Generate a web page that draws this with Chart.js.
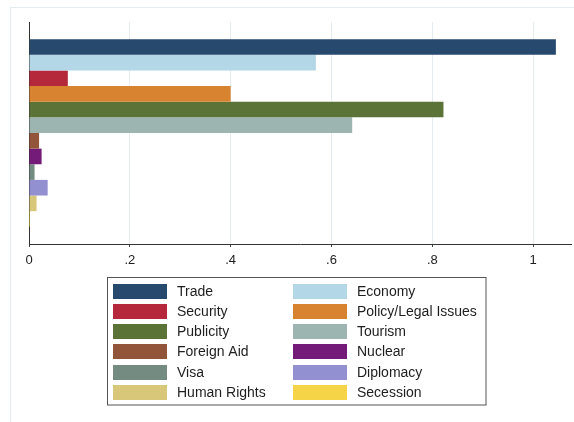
<!DOCTYPE html>
<html>
<head>
<meta charset="utf-8">
<script src="https://cdn.jsdelivr.net/npm/chart.js@4/dist/chart.umd.min.js"></script>
<style>
    html, body { margin: 0; padding: 0; background: #fff; }
    canvas { display: block; }
</style>
</head>
<body>
<canvas id="topicChart" width="574" height="422"></canvas>
<script>
'use strict';

// Temas y su peso medio (una barra por tema, de arriba a abajo)
const categories = [
    'Trade', 'Economy', 'Security', 'Policy/Legal Issues',
    'Publicity', 'Tourism', 'Foreign Aid', 'Nuclear',
    'Visa', 'Diplomacy', 'Human Rights', 'Secession'
];
const shares = [1.045, 0.569, 0.077, 0.400, 0.822, 0.641, 0.020, 0.025, 0.011, 0.037, 0.015, 0.002];
const barColors = [
    '#26496d', '#b4d7e7', '#b5273b', '#d8832f',
    '#5b7337', '#9cb5b0', '#93553a', '#741a78',
    '#738b80', '#9390d2', '#d8c679', '#f5d547'
];
const tickValues = [0, 0.2, 0.4, 0.6, 0.8, 1];

const FONT = "'Liberation Sans', Arial, Helvetica, sans-serif";

// Marco exterior + leyenda en dos columnas con recuadro
const boxLegend = {
    id: 'boxLegend',
    afterDraw(chart) {
        const ctx = chart.ctx;
        ctx.save();

        ctx.strokeStyle = '#e3ebee';
        ctx.lineWidth = 1;
        ctx.strokeRect(10.5, 7.5, 700, 600);

        const box = { x: 107.5, y: 277.5, w: 378.5, h: 127.5 };
        ctx.strokeStyle = '#555';
        ctx.strokeRect(box.x, box.y, box.w, box.h);

        const colX = [113, 293];
        const rowY = 283.5;
        const pitch = 20.3;
        ctx.font = '14px ' + FONT;
        ctx.textBaseline = 'middle';
        ctx.textAlign = 'left';
        chart.data.datasets.forEach((ds, i) => {
            const col = i % 2;
            const row = Math.floor(i / 2);
            const x = colX[col];
            const y = Math.round(rowY + row * pitch);
            ctx.fillStyle = ds.backgroundColor;
            ctx.fillRect(x, y, 54, 15);
            ctx.fillStyle = '#1e1e1e';
            ctx.fillText(ds.label, x + 64, y + 8);
        });
        ctx.restore();
    }
};

new Chart(document.getElementById('topicChart'), {
    type: 'bar',
    data: {
        labels: [''],
        datasets: categories.map((name, i) => ({
            label: name,
            data: [shares[i]],
            backgroundColor: barColors[i],
            borderWidth: 0,
            barPercentage: 1,
            categoryPercentage: 0.845
        }))
    },
    options: {
        indexAxis: 'y',
        responsive: false,
        animation: false,
        devicePixelRatio: 1,
        layout: {
            padding: { left: 29, top: 22, right: 3, bottom: 148 }
        },
        scales: {
            x: {
                min: 0,
                max: 1.075,
                afterBuildTicks: (scale) => {
                    scale.ticks = tickValues.map(v => ({ value: v }));
                },
                afterFit: (scale) => { scale.height = 30; },
                ticks: {
                    padding: 6,
                    color: '#1e1e1e',
                    font: { size: 13, family: FONT },
                    callback: (v) => (v === 0 ? '0' : String(+v.toFixed(1)).replace(/^0/, ''))
                },
                grid: {
                    color: '#e4ecef',
                    tickColor: '#444',
                    tickLength: 3
                },
                border: { display: true, color: '#333', width: 1 }
            },
            y: {
                ticks: { display: false },
                grid: { display: false },
                afterFit: (scale) => { scale.width = 0; },
                border: { display: true, color: '#333', width: 1 }
            }
        },
        plugins: {
            legend: { display: false },
            tooltip: { enabled: false }
        }
    },
    plugins: [boxLegend]
});
</script>
</body>
</html>
